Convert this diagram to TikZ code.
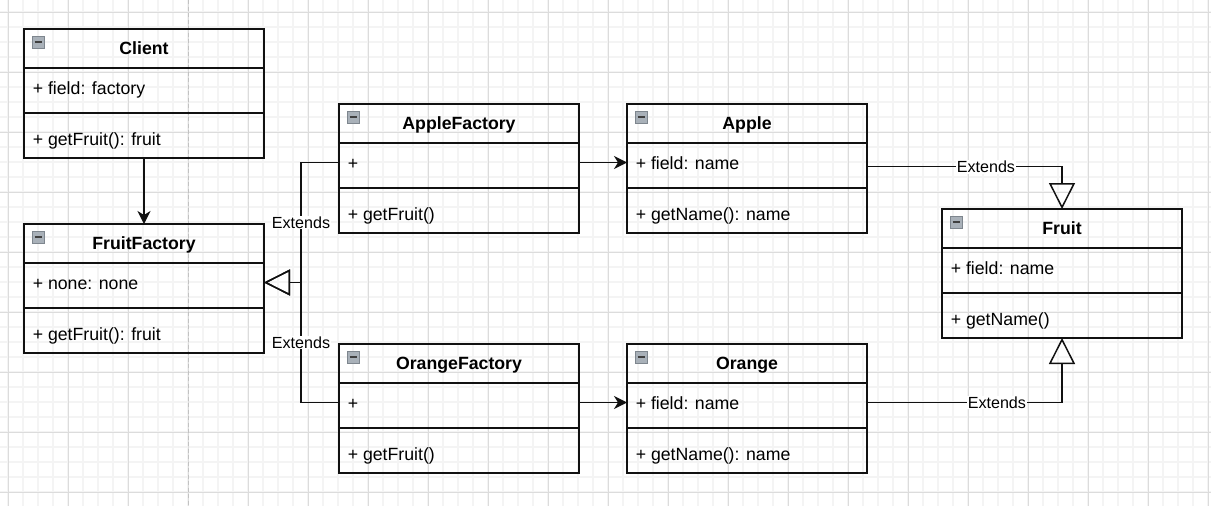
\documentclass[tikz,border=0pt]{standalone}
\usepackage{fontspec}
\setmainfont{Liberation Sans}
\usetikzlibrary{arrows.meta,calc}
\definecolor{gridminor}{HTML}{F4F4F4}
\definecolor{gridmajor}{HTML}{DCDCDC}
\definecolor{dashcol}{HTML}{C2C2C2}
\definecolor{iconfill}{HTML}{A9B1B9}
\definecolor{iconedge}{HTML}{7E868E}
\definecolor{linecol}{HTML}{111111}
\tikzset{
  umlbox/.style={draw=linecol, line width=1.5pt, minimum width=240pt, minimum height=129pt, inner sep=0pt, outer sep=0pt, anchor=north west},
  rowbox/.style={minimum width=240pt, minimum height=39pt, inner sep=0pt, outer sep=0pt, anchor=north west},
  title/.style={font=\fontsize{17.7}{20}\selectfont\bfseries, inner sep=0pt, anchor=base},
  member/.style={font=\fontsize{17.7}{20}\selectfont, inner sep=0pt, anchor=base west},
  sepline/.style={draw=linecol, line width=1.5pt},
  conn/.style={draw=linecol, line width=1.5pt},
  assoc/.style={conn, -{Stealth[length=13pt,width=13pt,inset=4pt]}},
  extends/.style={conn, -{Triangle[open,length=26pt,width=26pt]}},
  lbl/.style={font=\fontsize{16.1}{18}\selectfont, fill=white, inner sep=1pt},
}
\newcommand\umlclass[6]{%
  \node[umlbox] (#1) at (#2,#3) {};
  \node[rowbox] (#1-h) at (#1.north west) {};
  \node[rowbox] (#1-a) at ($(#1.north west)+(0,39)$) {};
  \node[rowbox] (#1-m) at ($(#1.north west)+(0,90)$) {};
  \node[title] (#1-t) at ($(#1-h.center)+(0,6.4)$) {#4};
  \node[member] (#1-at) at ($(#1-a.west)+(8.6,6.7)$) {#5};
  \node[member] (#1-mt) at ($(#1-m.west)+(8.6,6.6)$) {#6};
  \draw[sepline] (#1-a.north west) -- (#1-a.north east);
  \draw[sepline] ($(#1.north west)+(0,84)$) -- ($(#1.north east)+(0,84)$);
  \filldraw[fill=iconfill, draw=iconedge, line width=0.8pt] ($(#1.north west)+(8,7)$) rectangle ++(12,12);
  \draw[line width=1.6pt, black!75] ($(#1.north west)+(10.5,13)$) -- ++(7,0);
}
\begin{document}
\begin{tikzpicture}[x=1pt, y=-1pt]
  \useasboundingbox (0,0) rectangle (1211,506);
  \fill[white] (0,0) rectangle (1211,506);
  \foreach \x in {8,23,...,1210} \draw[gridminor, line width=1.1pt] (\x,0) -- (\x,506);
  \foreach \y in {12,27,...,505} \draw[gridminor, line width=1.1pt] (0,\y) -- (1211,\y);
  \foreach \x in {8,68,...,1210} \draw[gridmajor, line width=1pt] (\x,0) -- (\x,506);
  \foreach \y in {12,72,...,505} \draw[gridmajor, line width=1pt] (0,\y) -- (1211,\y);
  \draw[dashcol, line width=1.3pt, dash pattern=on 4pt off 2.5pt] (188.5,0) -- (188.5,506);

  \umlclass{client}{24}{29}{Client}{+ field: factory}{+ getFruit(): fruit}
  \umlclass{ff}{24}{224}{FruitFactory}{+ none: none}{+ getFruit(): fruit}
  \umlclass{af}{339}{104}{AppleFactory}{+}{+ getFruit()}
  \umlclass{apple}{627}{104}{Apple}{+ field: name}{+ getName(): name}
  \umlclass{of}{339}{344}{OrangeFactory}{+}{+ getFruit()}
  \umlclass{orange}{627}{344}{Orange}{+ field: name}{+ getName(): name}
  \umlclass{fruit}{942}{209}{Fruit}{+ field: name}{+ getName()}

  \draw[assoc] (client.south) -- (ff.north);
  \draw[assoc] (af-a.east) -- (apple-a.west);
  \draw[assoc] (of-a.east) -- (orange-a.west);
  \draw[extends] (af-a.west) -- ++(-38,0) |- node[lbl, pos=0.25] {Extends} (ff-a.east);
  \draw[extends] (of-a.west) -- ++(-38,0) |- node[lbl, pos=0.25] {Extends} (ff-a.east);
  \draw[extends] ([yshift=-4.2pt]apple-a.east) -| node[lbl, pos=0.305] {Extends} (fruit.north);
  \draw[extends] (orange-a.east) -| node[lbl, pos=0.333] {Extends} (fruit.south);
\end{tikzpicture}
\end{document}
